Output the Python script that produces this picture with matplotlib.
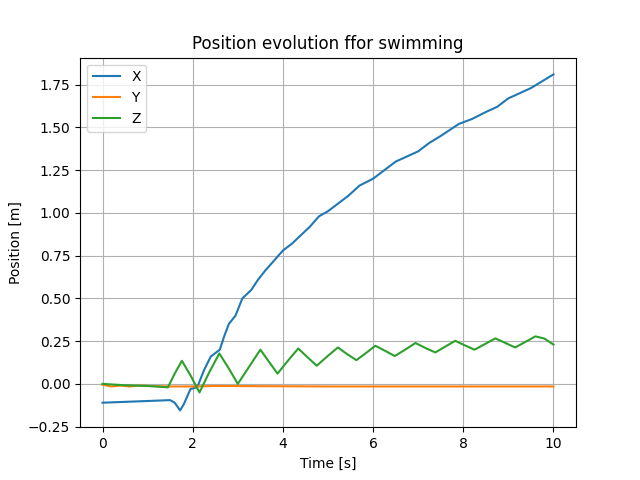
import matplotlib
matplotlib.use("Agg")
import matplotlib.pyplot as plt

# values
t_x = [0, 0.5, 1.0, 1.5, 1.6, 1.72, 1.8, 1.95, 2.1, 2.25, 2.4, 2.6, 2.7, 2.8, 2.95, 3.1, 3.3, 3.45, 3.6, 3.8, 4.0, 4.2, 4.4, 4.6, 4.8, 5.0, 5.2, 5.45, 5.7, 6.0, 6.25, 6.5, 6.75, 7.0, 7.25, 7.5, 7.9, 8.2, 8.5, 8.75, 9.0, 9.25, 9.5, 9.75, 10.0]
x_val = [-0.11, -0.105, -0.1, -0.095, -0.11, -0.155, -0.12, -0.03, -0.02, 0.08, 0.16, 0.2, 0.28, 0.35, 0.4, 0.5, 0.55, 0.61, 0.66, 0.72, 0.78, 0.82, 0.87, 0.92, 0.98, 1.01, 1.05, 1.1, 1.16, 1.2, 1.25, 1.3, 1.33, 1.36, 1.41, 1.45, 1.52, 1.55, 1.59, 1.62, 1.67, 1.7, 1.73, 1.77, 1.81]

t_y = [0, 0.2, 0.4, 0.6, 0.8, 1.0, 1.5, 2.0, 2.5, 5.0, 10.0]
y_val = [-0.005, -0.015, -0.01, -0.015, -0.01, -0.012, -0.015, -0.015, -0.012, -0.015, -0.015]

t_z = [0, 0.5, 1.0, 1.45, 1.6, 1.76, 1.95, 2.15, 2.37, 2.59, 2.8, 3.0, 3.25, 3.5, 3.69, 3.88, 4.11, 4.34, 4.55, 4.75, 4.98, 5.22, 5.42, 5.63, 5.84, 6.05, 6.27, 6.48, 6.71, 6.94, 7.16, 7.38, 7.6, 7.82, 8.03, 8.25, 8.48, 8.71, 8.93, 9.15, 9.38, 9.6, 9.8, 10.0]
z_val = [0.0, -0.008, -0.012, -0.02, 0.06, 0.135, 0.05, -0.05, 0.07, 0.178, 0.09, 0.0, 0.1, 0.2, 0.13, 0.06, 0.135, 0.207, 0.155, 0.106, 0.16, 0.213, 0.175, 0.139, 0.18, 0.223, 0.193, 0.163, 0.2, 0.239, 0.21, 0.184, 0.218, 0.252, 0.226, 0.2, 0.233, 0.266, 0.24, 0.213, 0.246, 0.278, 0.265, 0.23]

plt.figure(figsize=(6.4, 4.8), dpi=100)
plt.plot(t_x, x_val, label="X")
plt.plot(t_y, y_val, label="Y")
plt.plot(t_z, z_val, label="Z")
plt.xlabel("Time [s]")
plt.ylabel("Position [m]")
plt.title("Position evolution ffor swimming")
plt.grid()
plt.legend(loc="upper left")
plt.savefig("out.png")
